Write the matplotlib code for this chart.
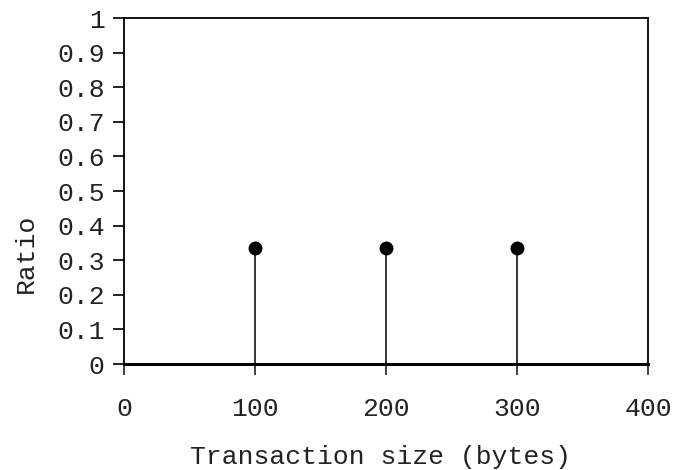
import matplotlib
matplotlib.use("Agg")
import matplotlib.pyplot as plt

# data
sizes = [100, 200, 300]
ratios = [0.335, 0.335, 0.335]
x_ticks = [0, 100, 200, 300, 400]
y_ticks = [0, 0.1, 0.2, 0.3, 0.4, 0.5, 0.6, 0.7, 0.8, 0.9, 1]
y_labels = ["0", "0.1", "0.2", "0.3", "0.4", "0.5", "0.6", "0.7", "0.8", "0.9", "1"]

plt.rcParams["font.family"] = ["Liberation Mono", "DejaVu Sans Mono"]
plt.rcParams["font.size"] = 19

fig = plt.figure(figsize=(6.73, 4.70), dpi=100)
ax = fig.add_axes([0.1842, 0.2255, 0.7787, 0.7362])

ax.vlines(sizes, 0, ratios, color="black", linewidth=1.1)
ax.plot(sizes, ratios, "o", color="black", markersize=9)

ax.set_xlim(0, 400)
ax.set_ylim(0, 1)
ax.set_xticks(x_ticks)
ax.set_yticks(y_ticks)
ax.set_yticklabels(y_labels)

for side in ["top", "right", "left"]:
    ax.spines[side].set_linewidth(1.3)
ax.spines["bottom"].set_linewidth(2.2)

ax.tick_params(axis="x", direction="out", length=8, width=1.2, pad=16, colors="#222222", labelcolor="#222222")
ax.tick_params(axis="y", direction="out", length=8, width=1.2, pad=6, labelcolor="#222222")

ax.set_xlabel("Transaction size (bytes)", color="#222222")
ax.xaxis.set_label_coords(0.49, -0.235)
ax.set_ylabel("Ratio", color="#222222")
ax.yaxis.set_label_coords(-0.165, 0.32)

fig.savefig("out.png", dpi=100, facecolor="white")
